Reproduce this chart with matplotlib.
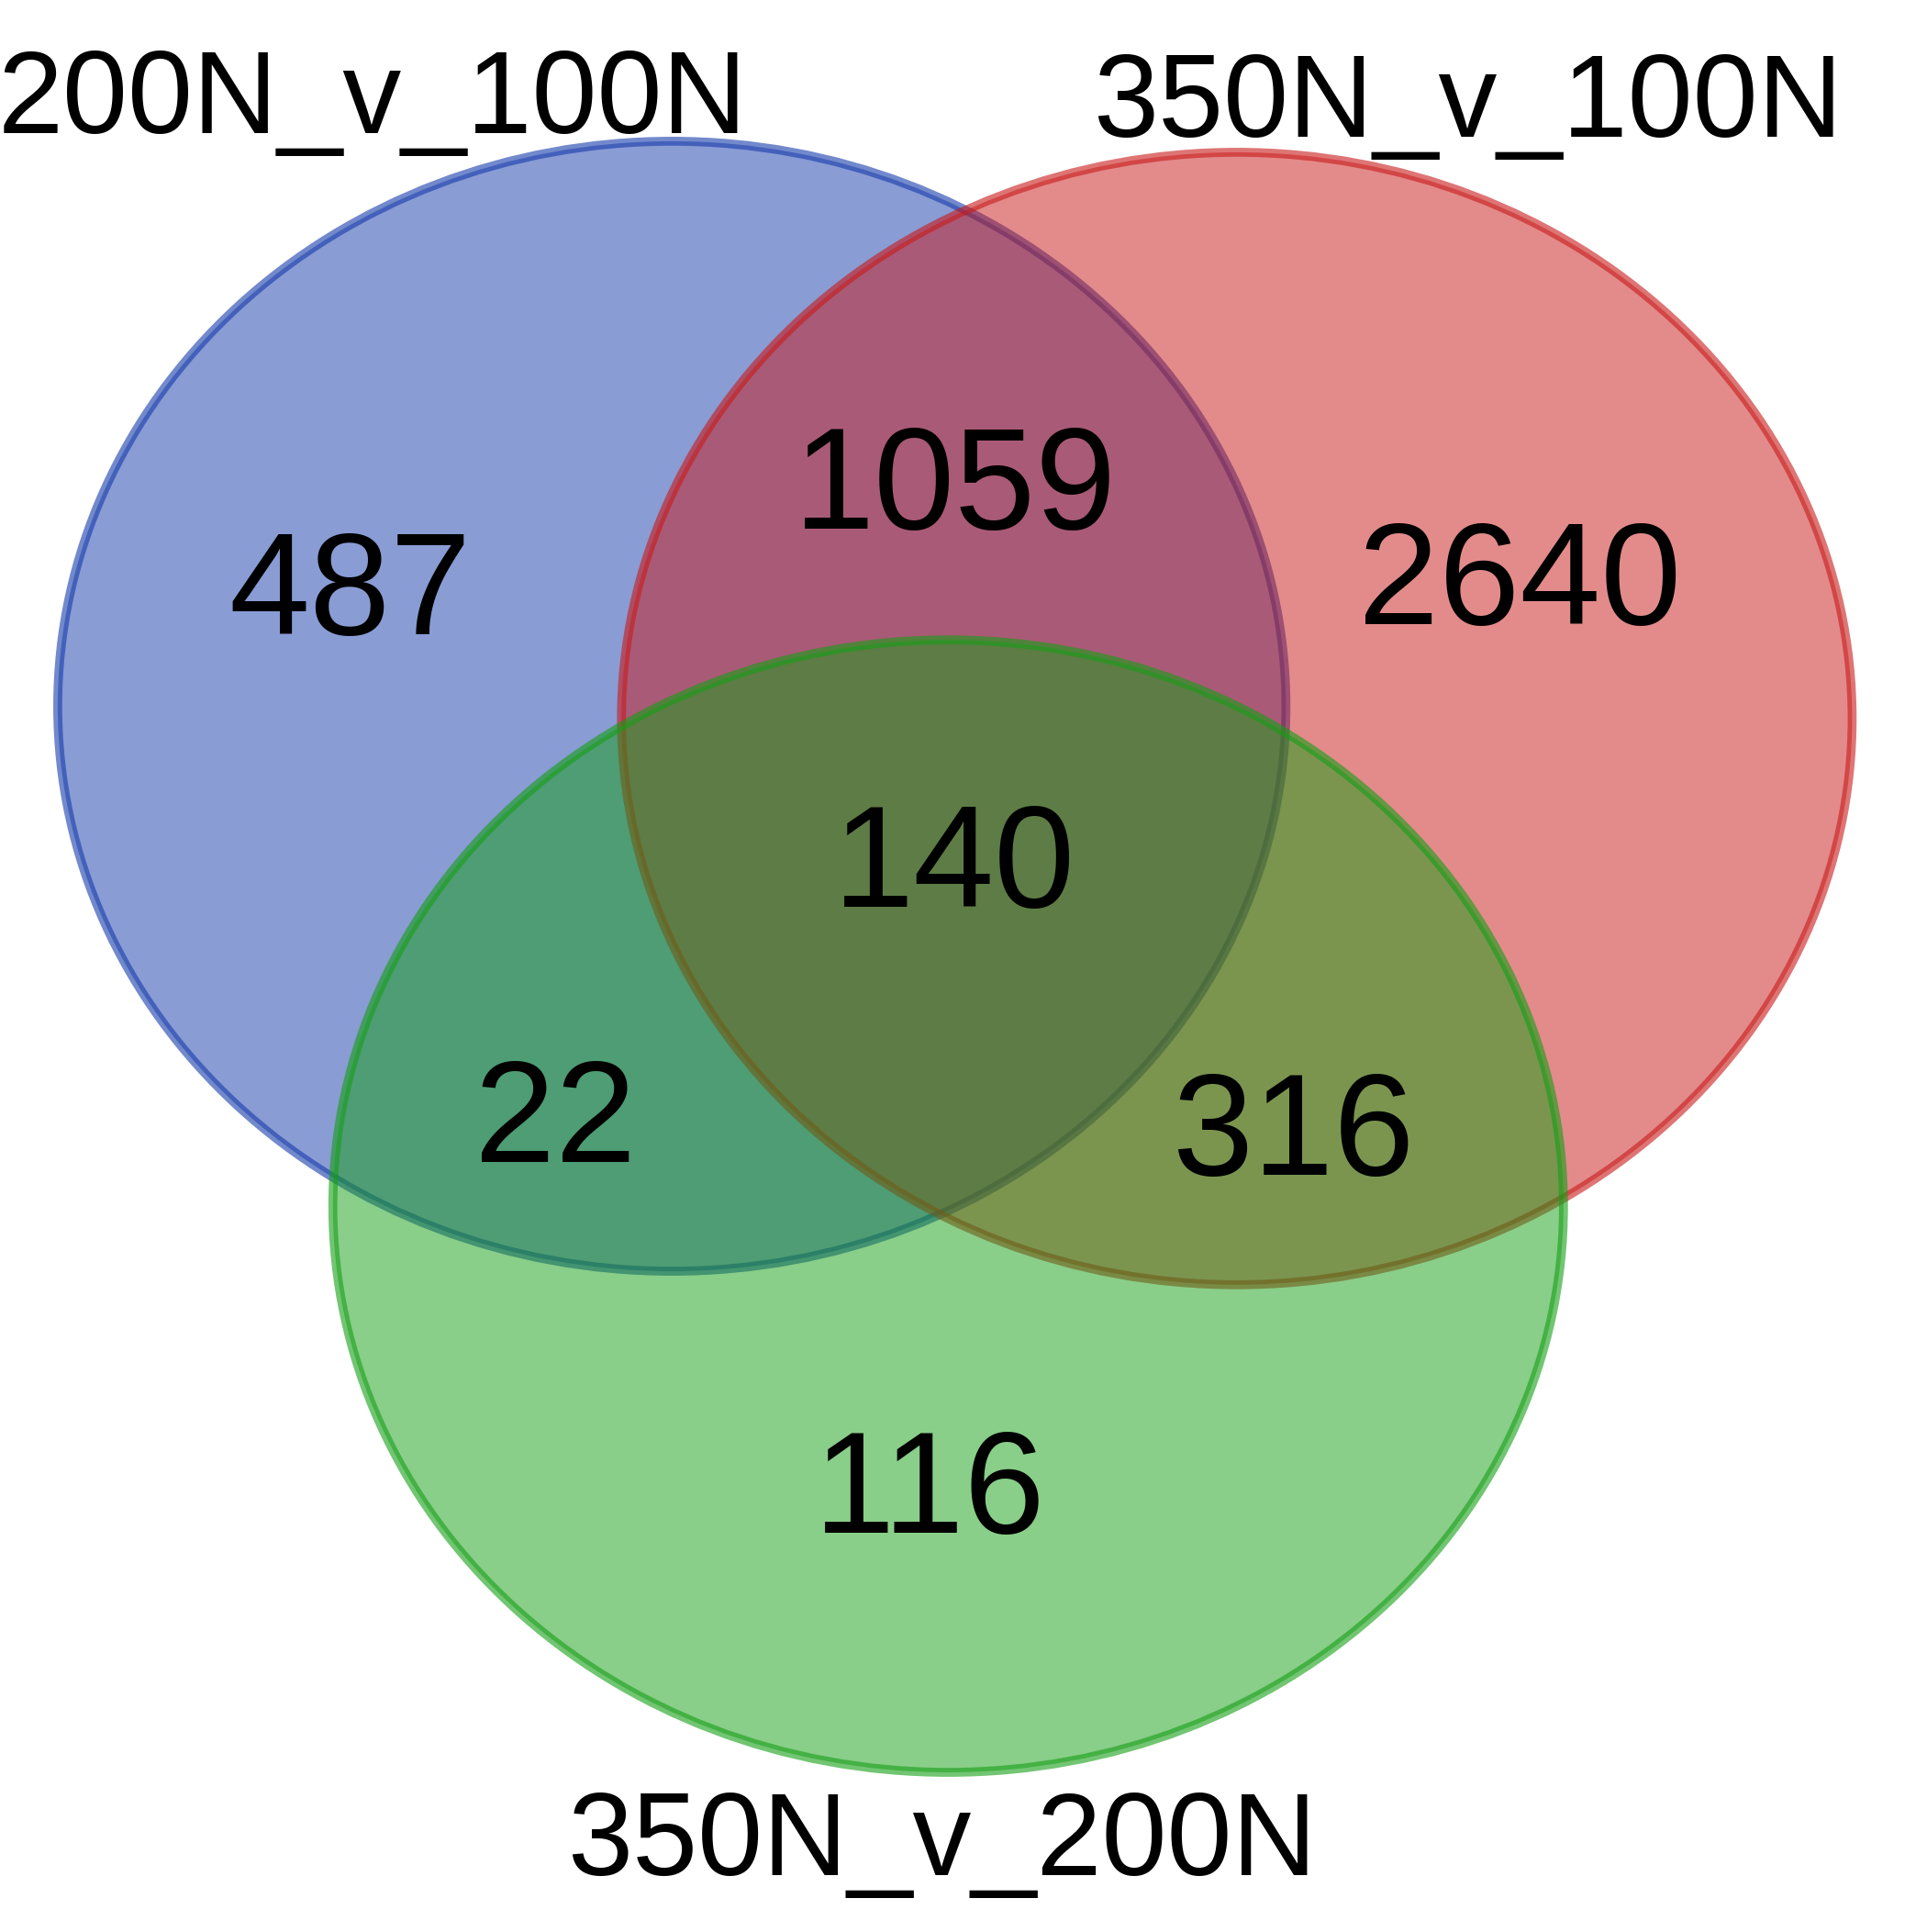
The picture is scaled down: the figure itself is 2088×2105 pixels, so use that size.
import matplotlib
matplotlib.use("Agg")
import matplotlib.pyplot as plt
from matplotlib.patches import Ellipse

set_names = ["200N_v_100N", "350N_v_100N", "350N_v_200N"]
region_labels = ["A", "B", "C", "AB", "AC", "BC", "ABC"]
region_counts = [487, 2640, 116, 1059, 22, 316, 140]
set_colors = [(21/255, 59/255, 171/255), (201/255, 25/255, 25/255), (21/255, 159/255, 21/255)]

W, H = 1560, 1573
fig = plt.figure(figsize=(20.88, 21.05), dpi=100)
ax = fig.add_axes([0, 0, 1, 1])
ax.set_xlim(0, W)
ax.set_ylim(H, 0)
ax.axis("off")

# circle geometry (display coords of the reference)
centers = [(547, 575), (1007, 585), (772, 982)]
sizes = [(1000, 920), (1002, 922), (1002, 922)]
for (cx, cy), (w, h), c in zip(centers, sizes, set_colors):
    ax.add_patch(Ellipse((cx, cy), w, h, facecolor=c, alpha=0.5, edgecolor="none"))
    ax.add_patch(Ellipse((cx, cy), w, h, facecolor="none", edgecolor=c, alpha=0.6, lw=7))

num_pos = {"A": (285, 486), "B": (1237, 478), "C": (757, 1218), "AB": (778, 400),
           "AC": (452, 916), "BC": (1053, 926), "ABC": (777, 708)}
font = "Liberation Sans"
for lab, n in zip(region_labels, region_counts):
    x, y = num_pos[lab]
    ax.text(x, y, str(n), ha="center", va="center", fontsize=114, family=font)

name_pos = [(303, 84), (1195, 87), (767, 1502)]
for name, (x, y) in zip(set_names, name_pos):
    ax.text(x, y, name, ha="center", va="center", fontsize=92, family=font)

fig.savefig("out.png", dpi=100)
